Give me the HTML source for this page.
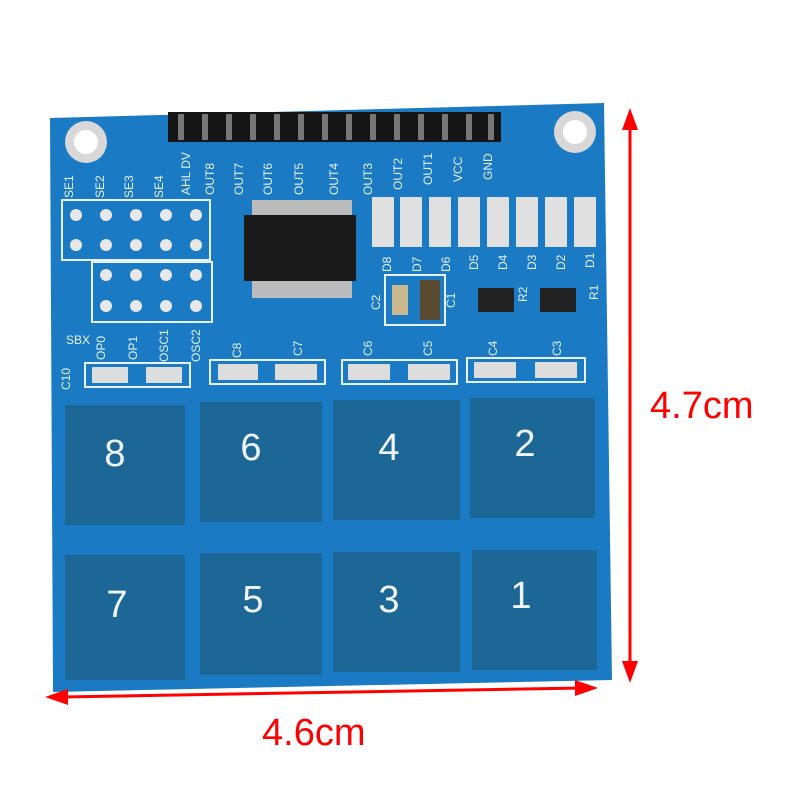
<!DOCTYPE html>
<html><head><meta charset="utf-8"><style>
html,body{margin:0;padding:0;background:#fff;width:800px;height:800px;overflow:hidden}
</style></head><body>
<svg width="800" height="800" viewBox="0 0 800 800" xmlns="http://www.w3.org/2000/svg" font-family="Liberation Sans, sans-serif">
<rect width="800" height="800" fill="#fff"/>
<polygon points="50,118 604,103 612,680 53,692" fill="#1a7bc4"/>
<circle cx="86" cy="142" r="21" fill="#d8d8d8"/><circle cx="86" cy="142" r="12" fill="#fff"/>
<circle cx="575" cy="132" r="21" fill="#d8d8d8"/><circle cx="575" cy="132" r="12" fill="#fff"/>
<rect x="168" y="112" width="333" height="30" fill="#151515"/>
<g fill="#777">
<rect x="178" y="114" width="6" height="26"/><rect x="202" y="114" width="6" height="26"/><rect x="226" y="114" width="6" height="26"/><rect x="250" y="114" width="6" height="26"/><rect x="274" y="114" width="6" height="26"/><rect x="298" y="114" width="6" height="26"/><rect x="322" y="114" width="6" height="26"/><rect x="346" y="114" width="6" height="26"/><rect x="370" y="114" width="6" height="26"/><rect x="394" y="114" width="6" height="26"/><rect x="418" y="114" width="6" height="26"/><rect x="442" y="114" width="6" height="26"/><rect x="466" y="114" width="6" height="26"/><rect x="488" y="114" width="6" height="26"/>
</g>
<g fill="#e8f0f8" font-size="12">
<text transform="translate(190,195) rotate(-90)">AHL DV</text>
<text transform="translate(214,195) rotate(-90)">OUT8</text>
<text transform="translate(243,195) rotate(-90)">OUT7</text>
<text transform="translate(272,195) rotate(-90)">OUT6</text>
<text transform="translate(303,195) rotate(-90)">OUT5</text>
<text transform="translate(338,195) rotate(-90)">OUT4</text>
<text transform="translate(372,195) rotate(-90)">OUT3</text>
<text transform="translate(402,190) rotate(-90)">OUT2</text>
<text transform="translate(432,185) rotate(-90)">OUT1</text>
<text transform="translate(462,182) rotate(-90)">VCC</text>
<text transform="translate(492,180) rotate(-90)">GND</text>
<text transform="translate(73,198) rotate(-90)">SE1</text>
<text transform="translate(104,198) rotate(-90)">SE2</text>
<text transform="translate(133,198) rotate(-90)">SE3</text>
<text transform="translate(163,198) rotate(-90)">SE4</text>
<text x="66" y="344">SBX</text>
<text transform="translate(105,360) rotate(-90)">OP0</text>
<text transform="translate(137,360) rotate(-90)">OP1</text>
<text transform="translate(168,362) rotate(-90)">OSC1</text>
<text transform="translate(200,362) rotate(-90)">OSC2</text>
<text transform="translate(70,390) rotate(-90)">C10</text>
<text transform="translate(241,358) rotate(-90)">C8</text>
<text transform="translate(302,356) rotate(-90)">C7</text>
<text transform="translate(372,356) rotate(-90)">C6</text>
<text transform="translate(432,356) rotate(-90)">C5</text>
<text transform="translate(497,356) rotate(-90)">C4</text>
<text transform="translate(561,356) rotate(-90)">C3</text>
<text transform="translate(391,272) rotate(-90)">D8</text>
<text transform="translate(421,272) rotate(-90)">D7</text>
<text transform="translate(450,272) rotate(-90)">D6</text>
<text transform="translate(478,270) rotate(-90)">D5</text>
<text transform="translate(507,270) rotate(-90)">D4</text>
<text transform="translate(536,270) rotate(-90)">D3</text>
<text transform="translate(565,270) rotate(-90)">D2</text>
<text transform="translate(594,268) rotate(-90)">D1</text>
<text transform="translate(380,310) rotate(-90)">C2</text>
<text transform="translate(455,308) rotate(-90)">C1</text>
<text transform="translate(527,302) rotate(-90)">R2</text>
<text transform="translate(598,300) rotate(-90)">R1</text>
</g>
<rect x="62" y="200" width="148" height="60" fill="none" stroke="#e8f0f8" stroke-width="2"/>
<rect x="92" y="262" width="120" height="60" fill="none" stroke="#e8f0f8" stroke-width="2"/>
<g fill="#e8e8e8">
<circle cx="76" cy="215" r="6"/><circle cx="106" cy="215" r="6"/><circle cx="136" cy="215" r="6"/><circle cx="166" cy="215" r="6"/><circle cx="196" cy="215" r="6"/>
<circle cx="76" cy="245" r="6"/><circle cx="106" cy="245" r="6"/><circle cx="136" cy="245" r="6"/><circle cx="166" cy="245" r="6"/><circle cx="196" cy="245" r="6"/>
<circle cx="106" cy="275" r="6"/><circle cx="136" cy="275" r="6"/><circle cx="166" cy="275" r="6"/><circle cx="196" cy="275" r="6"/>
<circle cx="106" cy="306" r="6"/><circle cx="136" cy="306" r="6"/><circle cx="166" cy="306" r="6"/><circle cx="196" cy="306" r="6"/>
</g>
<g fill="#bbb">
<rect x="252" y="200" width="100" height="20"/><rect x="252" y="276" width="100" height="22"/>
</g>
<rect x="244" y="215" width="112" height="66" fill="#1a1a1a"/>
<g fill="#e0e0e0">
<rect x="372" y="197" width="22" height="50"/><rect x="400" y="197" width="22" height="50"/><rect x="429" y="197" width="22" height="50"/><rect x="458" y="197" width="22" height="50"/><rect x="487" y="197" width="22" height="50"/><rect x="516" y="197" width="22" height="50"/><rect x="545" y="197" width="22" height="50"/><rect x="574" y="197" width="22" height="50"/>
</g>
<rect x="385" y="275" width="60" height="50" fill="none" stroke="#e8f0f8" stroke-width="2"/>
<rect x="392" y="285" width="16" height="30" fill="#c9b890"/>
<rect x="420" y="280" width="20" height="40" fill="#5a4a30"/>
<rect x="478" y="288" width="36" height="24" fill="#222"/>
<rect x="540" y="288" width="36" height="24" fill="#222"/>
<g fill="none" stroke="#e8f0f8" stroke-width="2">
<rect x="85" y="363" width="105" height="24"/><rect x="210" y="360" width="115" height="24"/><rect x="342" y="360" width="115" height="24"/><rect x="467" y="358" width="118" height="24"/>
</g>
<g fill="#ddd">
<rect x="92" y="367" width="36" height="16"/><rect x="146" y="367" width="36" height="16"/><rect x="218" y="364" width="40" height="16"/><rect x="275" y="364" width="42" height="16"/><rect x="348" y="364" width="42" height="16"/><rect x="408" y="364" width="42" height="16"/><rect x="474" y="362" width="42" height="16"/><rect x="535" y="362" width="42" height="16"/>
</g>
<g fill="#1c6796">
<rect x="65" y="405" width="120" height="120"/><rect x="200" y="402" width="122" height="120"/><rect x="333" y="400" width="127" height="120"/><rect x="470" y="398" width="125" height="120"/>
<rect x="65" y="555" width="120" height="125"/><rect x="200" y="553" width="122" height="122"/><rect x="333" y="552" width="127" height="120"/><rect x="472" y="550" width="125" height="120"/>
</g>
<g fill="#f0f4f8" font-size="38" text-anchor="middle">
<text x="115" y="466">8</text><text x="251" y="460">6</text><text x="389" y="460">4</text><text x="525" y="456">2</text>
<text x="117" y="617">7</text><text x="253" y="612">5</text><text x="389" y="612">3</text><text x="521" y="608">1</text>
</g>
<g stroke="#f00" stroke-width="3" fill="#f00">
<line x1="630" y1="125" x2="630" y2="668"/>
<polygon points="630,108 622,130 638,130" stroke="none"/>
<polygon points="630,683 622,661 638,661" stroke="none"/>
<line x1="62" y1="697" x2="583" y2="688"/>
<polygon points="45,697 68,689 68,705" stroke="none"/>
<polygon points="598,688 575,680 575,696" stroke="none"/>
</g>
<g fill="#f00" font-size="38">
<text x="650" y="418">4.7cm</text>
<text x="262" y="745">4.6cm</text>
</g>
</svg>
</body></html>
